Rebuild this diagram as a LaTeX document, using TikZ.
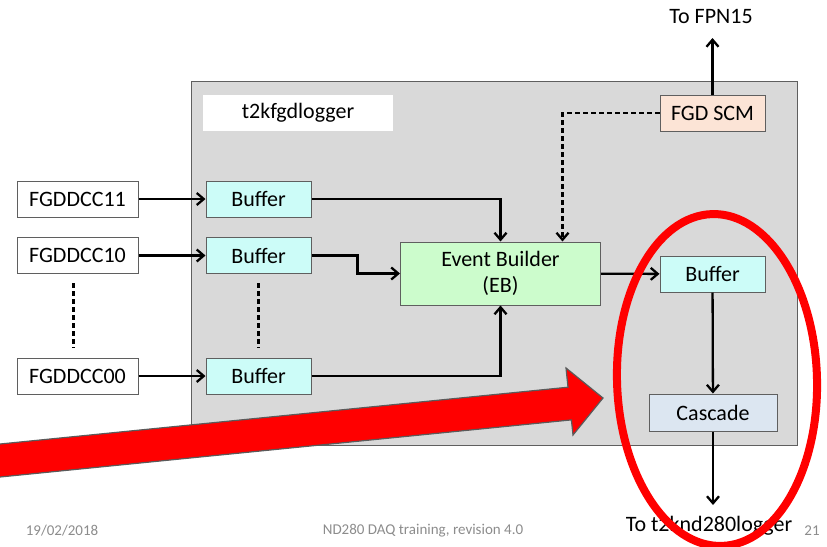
\documentclass[tikz,border=0pt]{standalone}
\usepackage{fontspec}
\setmainfont{Carlito}
\usetikzlibrary{arrows.meta}

\definecolor{loggerfill}{HTML}{D9D9D9}
\definecolor{boxline}{HTML}{5F5F5F}
\definecolor{bufferfill}{HTML}{CCFCF8}
\definecolor{ebfill}{HTML}{CCFCCC}
\definecolor{scmfill}{HTML}{FCE4D6}
\definecolor{cascadefill}{HTML}{DCE6F1}
\definecolor{footergray}{HTML}{8C8C8C}
\definecolor{markred}{HTML}{FF0000}
\definecolor{markline}{HTML}{5A5A5A}

\begin{document}
\begin{tikzpicture}[x=1pt, y=-1pt, font=\fontsize{22}{26}\selectfont,
  box/.style={draw=boxline, line width=1pt, inner sep=0pt, minimum height=36pt},
  flow/.style={line width=2.3pt, -{Straight Barb[length=7pt,width=12pt]}},
  dashflow/.style={flow, dash pattern=on 5pt off 3pt},
  gap/.style={line width=2.3pt, dash pattern=on 5pt off 3pt, shorten <=9pt, shorten >=10pt}]

  \clip (0,0) rectangle (827,546);
  \useasboundingbox (0,0) rectangle (827,546);

  % Logger process
  \node[box, fill=loggerfill, minimum width=606pt, minimum height=364pt] (fgdlog) at (494,263) {};
  \node[fill=white, minimum width=190pt, minimum height=36pt, inner sep=0pt] (title) at (298,113) {t2kfgdlogger};

  % DCC inputs
  \begin{scope}[every node/.style={box, fill=white, minimum width=121pt}]
    \node (dcc11) at (77.5,199) {FGDDCC11};
    \node (dcc10) at (77.5,255.5) {FGDDCC10};
    \node (dcc00) at (77.5,376) {FGDDCC00};
  \end{scope}

  % Buffers
  \begin{scope}[every node/.style={box, fill=bufferfill, minimum width=105pt}]
    \node (buf1) at (258.5,199) {Buffer};
    \node (buf2) at (258.5,255.5) {Buffer};
    \node (buf3) at (258.5,376) {Buffer};
    \node (buf4) at (712.5,274) {Buffer};
  \end{scope}

  \node[box, fill=ebfill, minimum width=200pt, minimum height=63pt, align=center] (eb) at (500.5,273.5) {Event Builder\\(EB)};
  \node[box, fill=scmfill, minimum width=105pt] (scm) at (712.5,113) {FGD SCM};
  \node[box, fill=cascadefill, minimum width=128pt, minimum height=37pt] (cascade) at (713,412.5) {Cascade};

  % Outputs
  \coordinate (fpn) at (712.5,38);
  \coordinate (nd280) at (713,505);
  \node (tofpn) at (711,16) {To FPN15};
  \node (tolog) at (709,526) {To t2knd280logger};

  % Inputs
  \draw[flow] (dcc11) -- (buf1);
  \draw[flow] (dcc10) -- (buf2);
  \draw[flow] (dcc00) -- (buf3);
  \draw[gap] ([xshift=-4pt]dcc10.south) -- ([xshift=-4pt]dcc00.north);
  \draw[gap] (buf2) -- (buf3);

  % Into the event builder
  \draw[flow] (buf1) -| (eb);
  \draw[flow] (buf2.east) -- ++(46,0) |- (eb);
  \draw[flow] (buf3) -| (eb);
  \draw[dashflow] (scm) -| ([xshift=62pt]eb.north);

  % Out
  \draw[flow] (eb) -- (buf4);
  \draw[flow] (buf4) -- (cascade);
  \draw[flow] (cascade) -- (nd280);
  \draw[flow] (scm) -- (fpn);

  % Footer
  \begin{scope}[every node/.style={font=\fontsize{15}{18}\selectfont, text=footergray}]
    \node (date) at (62,531) {19/02/2018};
    \node (talk) at (423,531) {ND280 DAQ training, revision 4.0};
    \node (page) at (812,531) {21};
  \end{scope}

  % Highlight
  \filldraw[fill=markred, draw=markline, line width=1.2pt, line join=miter]
    (-5,444.5) -- (568,387.2) -- (566,368) -- (603,398) -- (573,435)
    -- (571.4,419.9) -- (-5,477.5) -- cycle;
  \draw[markred, line width=8pt, rotate around={1.7:(717,380)}]
    (717,380) ellipse [x radius=100pt, y radius=166pt];
\end{tikzpicture}
\end{document}
